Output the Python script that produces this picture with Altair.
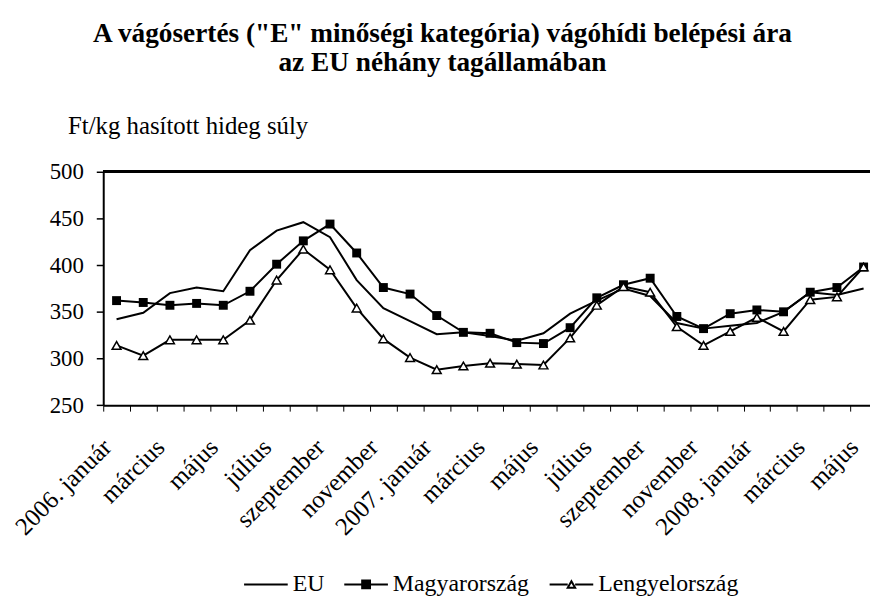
import json
import altair as alt
import pandas as pd

months = ["2006. január", "február", "március", "április", "május", "június",
          "július", "augusztus", "szeptember", "október", "november", "december",
          "2007. január", "február", "március", "április", "május", "június",
          "július", "augusztus", "szeptember", "október", "november", "december",
          "2008. január", "február", "március", "április", "május"]
eu = [342, 349, 370, 376, 372, 416, 437, 446, 430, 384, 354, 340, 326, 328, 324,
      319, 327, 348, 362, 375, 367, 338, 332, 335, 338, 350, 371, 368, 375]
hu = [362, 360, 357, 359, 357, 372, 401, 426, 444, 413, 376, 369, 346, 328, 327,
      317, 316, 333, 365, 379, 386, 345, 332, 348, 352, 350, 371, 376, 398]
pl = [314, 303, 320, 320, 320, 341, 384, 417, 395, 354, 321, 301, 288, 292, 295,
      294, 293, 322, 357, 377, 371, 334, 314, 329, 344, 329, 363, 366, 398]
series_names = ["EU", "Magyarország", "Lengyelország"]
y_ticks = [250, 300, 350, 400, 450, 500]

rows = []
for i in range(len(months)):
    for name, vals in zip(series_names, [eu, hu, pl]):
        rows.append({"idx": i, "series": name, "value": vals[i]})
df = pd.DataFrame(rows)

FONT = "Liberation Serif"
label_expr = "datum.value % 2 == 0 ? " + json.dumps(months, ensure_ascii=False) + "[datum.value] : ''"

x = alt.X("idx:O", bandPosition=0.5,
          scale=alt.Scale(type="band", paddingInner=0, paddingOuter=0),
          axis=alt.Axis(title=None, labelExpr=label_expr, labelAngle=-45,
                        labelAlign="right", labelBaseline="middle",
                        tickBand="extent", labelOverlap=False, labelFont=FONT,
                        labelFontSize=25, labelColor="black", labelPadding=32,
                        labelOffset=-10,
                        tickSize=6, tickColor="black", tickWidth=1,
                        domainColor="black", domainWidth=2, grid=False))
y = alt.Y("value:Q", scale=alt.Scale(domain=[250, 500], nice=False, zero=False),
          axis=alt.Axis(values=y_ticks, title="Ft/kg hasított hideg súly",
                        titleAngle=0, titleAlign="left", titleBaseline="alphabetic",
                        titleX=-36, titleY=-39, titleFont=FONT, titleFontSize=25,
                        titleFontWeight="normal", titleColor="black",
                        labelFont=FONT, labelFontSize=23, labelColor="black",
                        labelPadding=13, tickSize=7, tickColor="black", tickWidth=1.5,
                        domainColor="black", domainWidth=2, grid=False))

base = alt.Chart(df)

lines = base.mark_line(color="black", strokeWidth=2).encode(x=x, y=y, detail="series:N")
hu_pts = base.transform_filter(alt.datum.series == "Magyarország").mark_point(
    shape="square", filled=True, fill="black", size=81, opacity=1).encode(x=x, y=y)
pl_pts = base.transform_filter(alt.datum.series == "Lengyelország").mark_point(
    shape="triangle-up", fill="white", stroke="black", strokeWidth=1.5, size=80,
    opacity=1).encode(x=x, y=y)
top_rule = base.mark_rule(color="black", strokeWidth=2).encode(y=alt.datum(500))

eu_path = "M-1,0H1"
hu_path = "M-1,0H-0.18M0.18,0H1M-0.18,-0.18H0.18V0.18H-0.18Z"
pl_path = "M-1,0H-0.17M0.17,0H1M0,-0.15L0.17,0.15H-0.17Z"
leg = alt.Legend(title=None, orient="none", direction="horizontal",
                 legendX=141, legendY=393, symbolSize=1936, symbolStrokeColor="black",
                 symbolStrokeWidth=2, symbolOpacity=1, labelFont=FONT,
                 labelFontSize=24, labelColor="black", labelPadding=5,
                 columnPadding=16, labelLimit=400)
legend_layer = base.mark_point(opacity=0, filled=True, strokeWidth=2).encode(
    x=x, y=y,
    shape=alt.Shape("series:N", scale=alt.Scale(domain=series_names,
                    range=[eu_path, hu_path, pl_path]), legend=leg),
    fill=alt.Fill("series:N", scale=alt.Scale(domain=series_names,
                  range=["black", "black", "white"]), legend=leg),
    stroke=alt.Stroke("series:N", scale=alt.Scale(domain=series_names,
                      range=["black", "black", "black"]), legend=leg),
)

chart = alt.layer(lines, top_rule, hu_pts, pl_pts, legend_layer).properties(
    width=780, height=235.3,
    title=alt.TitleParams(
        text=['A vágósertés ("E" minőségi kategória) vágóhídi belépési ára',
              "az EU néhány tagállamában"],
        font=FONT, fontSize=27.5, fontWeight="bold", color="black",
        anchor="middle", frame="group", dx=-48, offset=37, lineHeight=29),
    autosize=alt.AutoSizeParams(type="none"),
    padding={"left": 96, "top": 162.7, "right": -7, "bottom": 193},
).configure_view(stroke=None).configure(background="white", font=FONT)

chart.save("out.html", embed_options={"renderer": "svg", "actions": False})
